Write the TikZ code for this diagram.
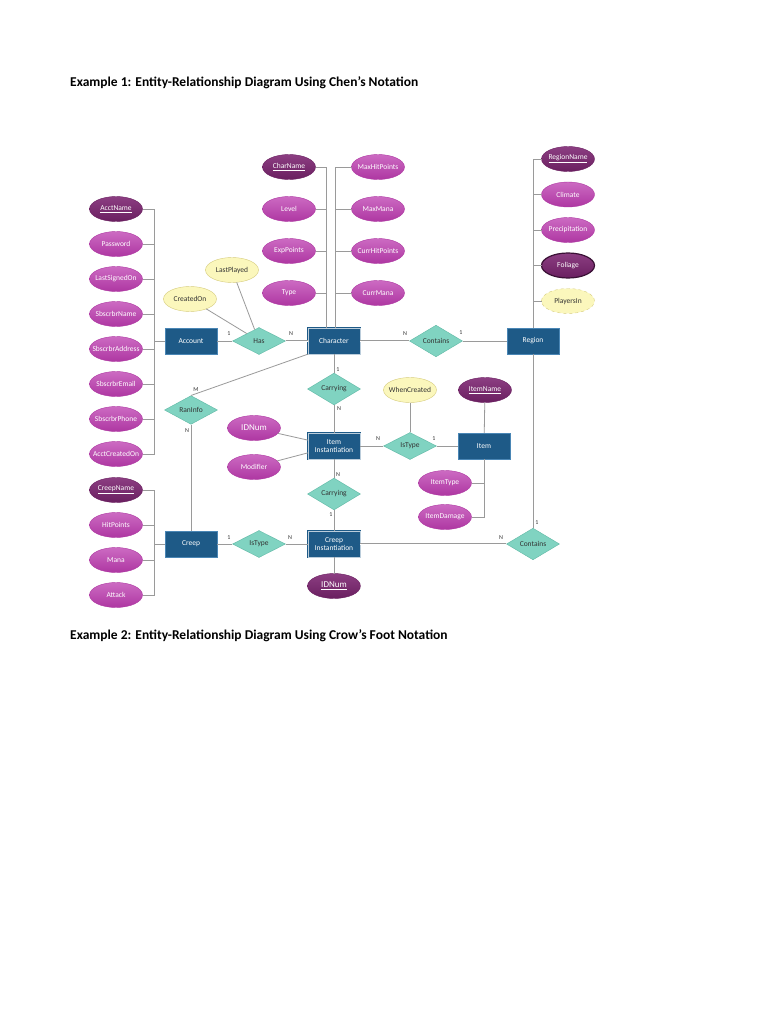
\documentclass[tikz,border=0pt]{standalone}
\usepackage{fontspec}
\setmainfont{Carlito}
\usepackage{xcolor}
\usetikzlibrary{positioning,shapes.geometric}
\definecolor{cEnt}{HTML}{1E5A87}
\definecolor{cEntLine}{HTML}{4A86B5}
\definecolor{cAtt}{HTML}{AE37A2}
\definecolor{cAttHi}{HTML}{CC6AC2}
\definecolor{cKey}{HTML}{6A1F60}
\definecolor{cKeyHi}{HTML}{8C3E82}
\definecolor{cRel}{HTML}{80D3C1}
\definecolor{cRelLine}{HTML}{5FB9A5}
\definecolor{cYel}{HTML}{FBF7BC}
\definecolor{cYelLine}{HTML}{D6CC7E}
\definecolor{cLn}{HTML}{9A9A9A}
\definecolor{cInk}{HTML}{333333}
\tikzset{
  ent/.style  ={rectangle,draw=cEntLine,fill=cEnt,text=white,align=center,
                minimum width=52pt,minimum height=26pt,inner sep=1pt,
                font=\fontsize{7.5}{8.5}\selectfont},
  went/.style ={ent,draw=cEnt,double=white!70!cEnt,double distance=0.6pt},
  rel/.style  ={diamond,draw=cRelLine,fill=cRel,text=cInk,inner sep=0pt,
                minimum width=53pt,minimum height=27pt,
                font=\fontsize{7.5}{8.5}\selectfont},
  att/.style  ={ellipse,draw=cAtt,top color=cAttHi,bottom color=cAtt,text=white,
                minimum width=53pt,minimum height=25pt,inner xsep=-8pt,inner ysep=0pt,
                outer sep=0pt,font=\fontsize{7.5}{8.5}\selectfont},
  katt/.style ={att,draw=cKey,top color=cKeyHi,bottom color=cKey},
  matt/.style ={katt,draw=cKey!55!black,line width=1.2pt},
  yatt/.style ={att,draw=cYelLine,top color=cYel,bottom color=cYel,text=cInk},
  datt/.style ={yatt,dashed},
  big/.style  ={font=\fontsize{9}{10}\selectfont},
  ln/.style   ={draw=cLn,line width=0.8pt},
  tot/.style  ={ln,double=white,double distance=1pt},
  card/.style ={font=\fontsize{6}{6}\selectfont,text=cInk,inner sep=0.5pt},
  ttl/.style  ={font=\fontsize{13.5}{15}\selectfont\bfseries,anchor=west,inner sep=0pt},
}
\begin{document}
\begin{tikzpicture}[x=1pt,y=-1pt,node distance=10pt]
\useasboundingbox (0,0) rectangle (768,1024);
\fill[white] (0,0) rectangle (768,1024);
\node[ttl] (ttl1) at (70,83) {Example 1: Entity-Relationship Diagram Using Chen's Notation};
\node[ttl] (ttl2) at (70,636) {Example 2: Entity-Relationship Diagram Using Crow's Foot Notation};

% entities
\node[ent]  (account)   at (191,341) {Account};
\node[went] (character) at (334,341) {Character};
\node[ent]  (region)    at (533,341) {Region};
\node[went] (iteminst)  at (334,446) {Item\\Instantiation};
\node[ent]  (item)      at (484,446) {Item};
\node[ent]  (creep)     at (191,544) {Creep};
\node[went] (creepinst) at (334,544) {Creep\\Instantiation};

% relationships
\node[rel] (has)       at (259,341) {Has};
\node[rel] (contains1) at (436,341) {Contains};
\node[rel] (carry1)    at (334,389) {Carrying};
\node[rel] (istype1)   at (410,446) {IsType};
\node[rel] (raninfo)   at (191,410) {RanInfo};
\node[rel] (carry2)    at (334,494) {Carrying};
\node[rel] (istype2)   at (259,544) {IsType};
\node[rel] (contains2) at (533,544) {Contains};

% account attributes
\node[katt] (acctname) at (116,209) {\underline{AcctName}};
\node[att,below=of acctname]   (password)    {Password};
\node[att,below=of password]   (lastsigned)  {LastSignedOn};
\node[att,below=of lastsigned] (subname)     {SbscrbrName};
\node[att,below=of subname]    (subaddr)     {SbscrbrAddress};
\node[att,below=of subaddr]    (subemail)    {SbscrbrEmail};
\node[att,below=of subemail]   (subphone)    {SbscrbrPhone};
\node[att,below=of subphone]   (acctcreated) {AcctCreatedOn};

% character attributes
\node[katt] (charname) at (289,167) {\underline{CharName}};
\node[att,below=17pt of charname]  (level)     {Level};
\node[att,below=17pt of level]     (exppoints) {ExpPoints};
\node[att,below=17pt of exppoints] (ctype)     {Type};
\node[att] (maxhp) at (378,167) {MaxHitPoints};
\node[att,below=17pt of maxhp]     (maxmana)   {MaxMana};
\node[att,below=17pt of maxmana]   (currhp)    {CurrHitPoints};
\node[att,below=17pt of currhp]    (currmana)  {CurrMana};

% region attributes
\node[katt] (regionname) at (568,159) {\underline{RegionName}};
\node[att,below=10.5pt of regionname] (climate)   {Climate};
\node[att,below=10.5pt of climate]    (precip)    {Precipitation};
\node[matt,below=10.5pt of precip]    (foliage)   {Foliage};
\node[datt,below=10.5pt of foliage]   (playersin) {PlayersIn};

% relationship attributes
\node[yatt] (createdon)   at (190,299) {CreatedOn};
\node[yatt] (lastplayed)  at (232,270) {LastPlayed};
\node[yatt] (whencreated) at (410,390) {WhenCreated};

% item attributes
\node[att,big] (idnum1)   at (254,428) {IDNum};
\node[att]     (modifier) at (254,467) {Modifier};
\node[katt]    (itemname) at (485,390) {\underline{ItemName}};
\node[att]     (itemtype) at (445,483) {ItemType};
\node[att,below=9pt of itemtype] (itemdamage) {ItemDamage};

% creep attributes
\node[katt] (creepname) at (116,490) {\underline{CreepName}};
\node[att,below=of creepname] (hitpoints) {HitPoints};
\node[att,below=of hitpoints] (mana)      {Mana};
\node[att,below=of mana]      (attack)    {Attack};
\node[katt,big] (idnum2) at (334,586) {\underline{IDNum}};

% attribute buses
\coordinate (abus) at (154,0);
\coordinate (lbus) at (326,0);
\coordinate (rbus) at (335,0);
\draw[ln] (acctname) -- (acctname -| abus) -- (acctcreated -| abus) -- (acctcreated);
\draw[ln] (password) -- (password -| abus);  \draw[ln] (lastsigned) -- (lastsigned -| abus);
\draw[ln] (subname) -- (subname -| abus);    \draw[ln] (subaddr) -- (subaddr -| abus);
\draw[ln] (subemail) -- (subemail -| abus);  \draw[ln] (subphone) -- (subphone -| abus);
\draw[ln] (account) -- (account -| abus);
\draw[ln] (charname) -- (charname -| lbus) -- (lbus |- character.north);
\draw[ln] (level) -- (level -| lbus);  \draw[ln] (exppoints) -- (exppoints -| lbus);
\draw[ln] (ctype) -- (ctype -| lbus);
\draw[ln] (maxhp) -- (maxhp -| rbus) -- (rbus |- character.north);
\draw[ln] (maxmana) -- (maxmana -| rbus);  \draw[ln] (currhp) -- (currhp -| rbus);
\draw[ln] (currmana) -- (currmana -| rbus);
\draw[ln] (regionname) -- (regionname -| region) -- (region);
\draw[ln] (climate) -- (climate -| region);  \draw[ln] (precip) -- (precip -| region);
\draw[ln] (foliage) -- (foliage -| region);  \draw[ln] (playersin) -- (playersin -| region);
\draw[ln] (creepname) -- (creepname -| abus) -- (attack -| abus) -- (attack);
\draw[ln] (hitpoints) -- (hitpoints -| abus);  \draw[ln] (mana) -- (mana -| abus);
\draw[ln] (creep) -- (creep -| abus);
\draw[ln] (itemname) -- (item);
\draw[ln] (item) -- (item |- itemdamage) -- (itemdamage);
\draw[ln] (itemtype) -- (itemtype -| item);
\draw[ln] (idnum1) -- (iteminst);  \draw[ln] (modifier) -- (iteminst);
\draw[ln] (creepinst) -- (idnum2);
\draw[ln] (createdon) -- (has);  \draw[ln] (lastplayed) -- (has);
\draw[ln] (whencreated) -- (istype1);

% relationship links
\draw[ln]  (account) -- (has);
\draw[tot] (has) -- (character);
\draw[tot] (character) -- (contains1);
\draw[ln]  (contains1) -- (region);
\draw[ln]  (character) -- (carry1) -- (iteminst);
\draw[ln]  (iteminst) -- (istype1) -- (item);
\draw[ln]  (raninfo.north) -- (character.south west);
\draw[ln]  (raninfo) -- (creep);
\draw[ln]  (iteminst) -- (carry2) -- (creepinst);
\draw[ln]  (creep) -- (istype2) -- (creepinst);
\draw[tot] (creepinst) -- (contains2);
\draw[ln]  (region) -- (contains2);

% cardinalities
\node[card] (k1)  at (229,334) {1};
\node[card] (k2)  at (291,334) {N};
\node[card] (k3)  at (405,334) {N};
\node[card] (k4)  at (461,333) {1};
\node[card] (k5)  at (338,370) {1};
\node[card] (k6)  at (339,409) {N};
\node[card] (k7)  at (378,439) {N};
\node[card] (k8)  at (434,439) {1};
\node[card] (k9)  at (338,475) {N};
\node[card] (k10) at (331,515) {1};
\node[card] (k11) at (229,538) {1};
\node[card] (k12) at (290,538) {N};
\node[card] (k13) at (501,538) {N};
\node[card] (k14) at (537,523) {1};
\node[card] (k15) at (196,390) {M};
\node[card] (k16) at (187,431) {N};
\end{tikzpicture}
\end{document}
